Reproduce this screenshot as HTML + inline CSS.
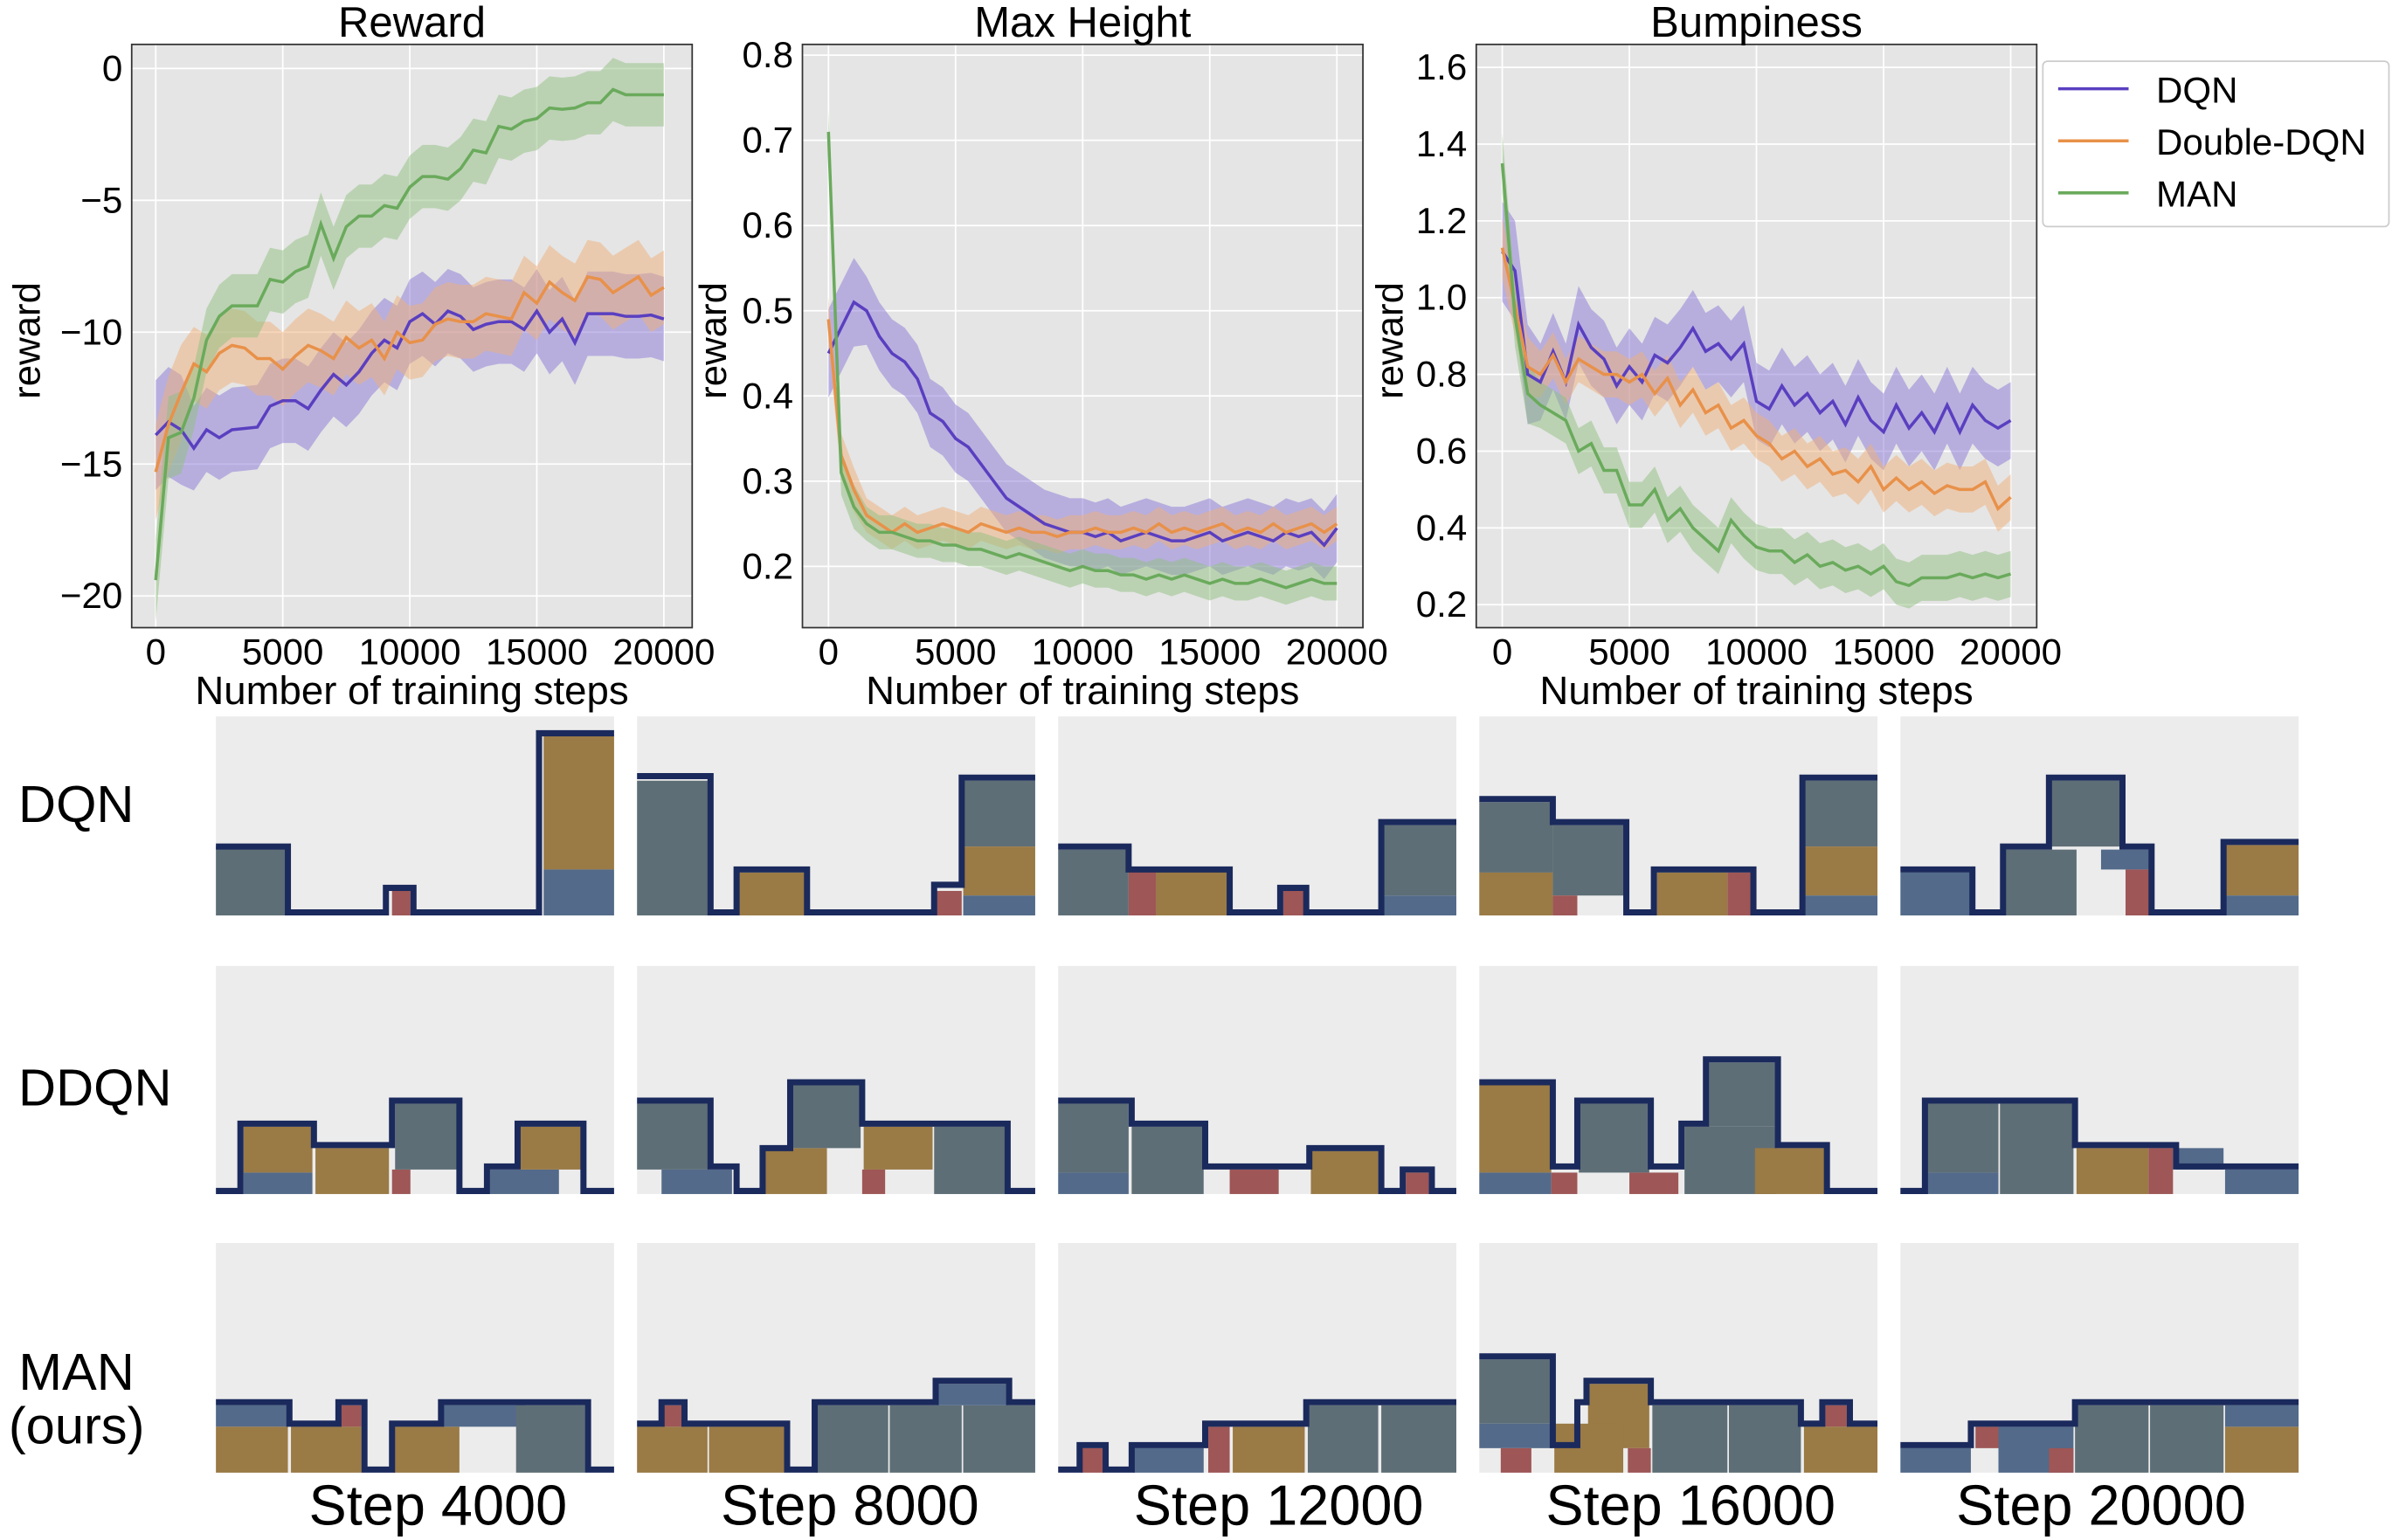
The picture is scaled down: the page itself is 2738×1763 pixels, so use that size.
<!DOCTYPE html>
<html><head><meta charset="utf-8">
<style>
html,body{margin:0;padding:0;background:#fff;}
svg{display:block;font-family:"Liberation Sans","DejaVu Sans",sans-serif;}
</style></head>
<body>
<svg id="root" width="2738" height="1763" viewBox="0 0 1562 1006" preserveAspectRatio="none" xmlns="http://www.w3.org/2000/svg">
<rect x="0" y="0" width="1562" height="1006" fill="#fff"/>
<g id="charts"></g>
<g id="panels"></g>
<g>
<rect x="1334" y="40" width="226" height="108" fill="#fff" stroke="#ccc" stroke-width="1" rx="3"/>
<line x1="1344" y1="58" x2="1390" y2="58" stroke="#5a3fc0" stroke-width="2"/>
<text x="1408" y="67" font-size="24">DQN</text>
<line x1="1344" y1="92" x2="1390" y2="92" stroke="#e8914a" stroke-width="2"/>
<text x="1408" y="101" font-size="24">Double-DQN</text>
<line x1="1344" y1="126" x2="1390" y2="126" stroke="#6aaa5c" stroke-width="2"/>
<text x="1408" y="135" font-size="24">MAN</text>
</g>
<g font-size="34">
<text x="12" y="537">DQN</text>
<text x="12" y="722">DDQN</text>
<text x="50" y="908" text-anchor="middle">MAN</text>
<text x="50" y="943" text-anchor="middle">(ours)</text>
</g>
<g font-size="37" text-anchor="middle">
<text x="286" y="996">Step 4000</text>
<text x="555" y="996">Step 8000</text>
<text x="835" y="996">Step 12000</text>
<text x="1104" y="996">Step 16000</text>
<text x="1372" y="996">Step 20000</text>
</g>
</svg>
<script>
const NS="http://www.w3.org/2000/svg";
const steps=[];for(let i=0;i<=40;i++)steps.push(i*500);
const xTicks=[0,5000,10000,15000,20000];
const rewardTicks=[0,-5,-10,-15,-20];
const heightTicks=[0.8,0.7,0.6,0.5,0.4,0.3,0.2];
const bumpTicks=[1.6,1.4,1.2,1.0,0.8,0.6,0.4,0.2];
const rewardDQN=[-13.9,-13.4,-13.7,-14.4,-13.7,-14.0,-13.7,-13.65,-13.6,-12.8,-12.6,-12.6,-12.9,-12.2,-11.6,-12.0,-11.5,-10.8,-10.3,-10.6,-9.6,-9.3,-9.7,-9.2,-9.4,-9.9,-9.7,-9.6,-9.6,-9.9,-9.2,-10.0,-9.5,-10.4,-9.3,-9.3,-9.3,-9.4,-9.4,-9.35,-9.5];
const rewardDDQN=[-15.3,-13.5,-12.3,-11.2,-11.5,-10.8,-10.5,-10.6,-11.0,-11.0,-11.4,-10.9,-10.5,-10.7,-11.0,-10.2,-10.6,-10.3,-11.0,-10.0,-10.4,-10.3,-9.7,-9.5,-9.6,-9.6,-9.3,-9.4,-9.5,-8.5,-8.9,-8.1,-8.5,-8.8,-7.9,-8.0,-8.5,-8.2,-7.9,-8.6,-8.3];
const rewardMAN=[-19.4,-14.0,-13.8,-12.5,-10.3,-9.4,-9.0,-9.0,-9.0,-8.0,-8.1,-7.7,-7.5,-5.9,-7.2,-6.0,-5.6,-5.6,-5.2,-5.3,-4.5,-4.1,-4.1,-4.2,-3.8,-3.1,-3.2,-2.2,-2.3,-2.0,-1.9,-1.5,-1.55,-1.5,-1.3,-1.3,-0.8,-1.0,-1.0,-1.0,-1.0];
const heightDQN=[0.45,0.48,0.51,0.50,0.47,0.45,0.44,0.42,0.38,0.37,0.35,0.34,0.32,0.30,0.28,0.27,0.26,0.25,0.245,0.24,0.24,0.235,0.24,0.23,0.235,0.24,0.235,0.23,0.23,0.235,0.24,0.23,0.235,0.24,0.235,0.23,0.24,0.235,0.24,0.225,0.245];
const heightDDQN=[0.49,0.33,0.29,0.26,0.25,0.24,0.25,0.24,0.245,0.25,0.245,0.24,0.25,0.245,0.24,0.245,0.24,0.24,0.235,0.24,0.24,0.245,0.24,0.24,0.245,0.24,0.25,0.24,0.245,0.24,0.245,0.25,0.24,0.245,0.24,0.25,0.24,0.245,0.25,0.24,0.25];
const heightMAN=[0.71,0.31,0.27,0.25,0.24,0.24,0.235,0.23,0.23,0.225,0.225,0.22,0.22,0.215,0.21,0.215,0.21,0.205,0.2,0.195,0.2,0.195,0.195,0.19,0.19,0.185,0.19,0.185,0.19,0.185,0.18,0.185,0.18,0.18,0.185,0.18,0.175,0.18,0.185,0.18,0.18];
const bumpDQN=[1.12,1.07,0.8,0.78,0.86,0.78,0.93,0.87,0.84,0.77,0.82,0.78,0.85,0.83,0.87,0.92,0.86,0.88,0.84,0.88,0.73,0.71,0.77,0.72,0.75,0.70,0.73,0.67,0.74,0.68,0.65,0.72,0.66,0.70,0.65,0.72,0.65,0.72,0.68,0.66,0.68];
const bumpDDQN=[1.13,0.98,0.82,0.8,0.85,0.78,0.84,0.82,0.80,0.80,0.78,0.80,0.75,0.79,0.72,0.76,0.70,0.72,0.66,0.68,0.64,0.62,0.58,0.60,0.56,0.58,0.54,0.55,0.52,0.56,0.50,0.53,0.50,0.52,0.49,0.51,0.50,0.50,0.52,0.45,0.48];
const bumpMAN=[1.35,0.95,0.75,0.72,0.70,0.68,0.60,0.62,0.55,0.55,0.46,0.46,0.50,0.42,0.45,0.40,0.37,0.34,0.42,0.38,0.35,0.34,0.34,0.31,0.33,0.30,0.31,0.29,0.30,0.28,0.30,0.26,0.25,0.27,0.27,0.27,0.28,0.27,0.28,0.27,0.28];
const spreadReward=[1.6,1.4,1.2];
const spreadHeight=[0.04,0.02,0.02];
const spreadBump=[0.1,0.06,0.06];
const seriesNames=["dqn","ddqn","man"];
const lineColors=["#5a3fc0","#e8914a","#6aaa5c"];
const bandColors=["#8a78d8","#f0b079","#8fc07f"];

function el(tag,attrs,parent){const e=document.createElementNS(NS,tag);for(const k in attrs)e.setAttribute(k,attrs[k]);parent.appendChild(e);return e;}
const chartsG=document.getElementById('charts');
const charts=[
 {name:"reward",title:"Reward",L:86,R:452,T:29,B:410,x0:101.7,x1:433.5,ya:0,yaPx:44.7,yb:-20,ybPx:389.3,ticks:rewardTicks,fmt:v=>v<0?"\u2212"+(-v):""+v,series:[rewardDQN,rewardDDQN,rewardMAN],spread:spreadReward,ylx:26},
 {name:"max-height",title:"Max Height",L:524,R:890,T:29,B:410,x0:541,x1:873,ya:0.8,yaPx:36,yb:0.2,ybPx:370,ticks:heightTicks,fmt:v=>v.toFixed(1),series:[heightDQN,heightDDQN,heightMAN],spread:spreadHeight,ylx:474},
 {name:"bumpiness",title:"Bumpiness",L:964,R:1330,T:29,B:410,x0:981,x1:1313,ya:1.6,yaPx:44,yb:0.2,ybPx:395,ticks:bumpTicks,fmt:v=>v.toFixed(1),series:[bumpDQN,bumpDDQN,bumpMAN],spread:spreadBump,ylx:916}
];
charts.forEach(c=>{
 const g=el('g',{},chartsG);
 
 
 const X=v=>c.x0+(v-0)/(20000)*(c.x1-c.x0);
 const Y=v=>c.yaPx+(v-c.ya)/(c.yb-c.ya)*(c.ybPx-c.yaPx);
 el('rect',{x:c.L,y:c.T,width:c.R-c.L,height:c.B-c.T,fill:"#e5e5e5"},g);
 xTicks.forEach(t=>{
  el('line',{x1:X(t),x2:X(t),y1:c.T,y2:c.B,stroke:"#fff","stroke-width":1},g);
  const tx=el('text',{x:X(t),y:c.B+24,"font-size":24,"text-anchor":"middle"},g);tx.textContent=t;
  
  
 });
 c.ticks.forEach(t=>{
  el('line',{x1:c.L,x2:c.R,y1:Y(t),y2:Y(t),stroke:"#fff","stroke-width":1},g);
  const ty=el('text',{x:c.L-6,y:Y(t)+8,"font-size":24,"text-anchor":"end"},g);ty.textContent=c.fmt(t);
  
  
 });
 c.series.forEach((s,si)=>{
  const sp=c.spread[si];
  let up=s.map((v,i)=>X(steps[i])+","+Y(v+sp*(i<3?1.3:1))).join(" ");
  let dn=s.map((v,i)=>X(steps[i])+","+Y(v-sp*(i<3?1.3:1))).reverse().join(" ");
  const band=el('polygon',{points:up+" "+dn,fill:bandColors[si],"fill-opacity":0.5,stroke:"none"},g);
  
  
 });
 c.series.forEach((s,si)=>{
  const ln=el('polyline',{points:s.map((v,i)=>X(steps[i])+","+Y(v)).join(" "),fill:"none",stroke:lineColors[si],"stroke-width":2},g);
  
  
 });
 el('rect',{x:c.L,y:c.T,width:c.R-c.L,height:c.B-c.T,fill:"none",stroke:"#333","stroke-width":1},g);
 const tt=el('text',{x:(c.L+c.R)/2,y:24,"font-size":28,"text-anchor":"middle"},g);tt.textContent=c.title;
 
 
 const xl=el('text',{x:(c.L+c.R)/2,y:460,"font-size":26,"text-anchor":"middle"},g);xl.textContent="Number of training steps";
 
 
 const yl=el('text',{x:0,y:0,"font-size":25,"text-anchor":"middle",transform:`translate(${c.ylx},${(c.T+c.B)/2+3}) rotate(-90)`},g);yl.textContent="reward";
 
 
});

const C={g:"#5e6e76",b:"#9a7a45",u:"#536a8a",r:"#9e5656"};
const panels=[
 {x:141,y:468,h:130,blocks:[[141,188,553,598,'g'],[256,268,582,598,'r'],[355,401,480,568,'b'],[355,401,568,598,'u']],
  out:[[141,553],[188,553],[188,596],[252,596],[252,580],[270,580],[270,596],[352,596],[352,479],[401,479]]},
 {x:416,y:468,h:130,blocks:[[416,463,510,598,'g'],[482,526,570,598,'b'],[611,628,582,598,'r'],[629,676,510,553,'g'],[629,676,553,585,'b'],[629,676,585,598,'u']],
  out:[[416,507],[464,507],[464,596],[481,596],[481,568],[527,568],[527,596],[610,596],[610,578],[628,578],[628,508],[676,508]]},
 {x:691,y:468,h:130,blocks:[[691,737,555,598,'g'],[737,755,568,598,'r'],[755,802,568,598,'b'],[838,852,582,598,'r'],[903,951,539,585,'g'],[903,951,585,598,'u']],
  out:[[691,553],[737,553],[737,568],[803,568],[803,596],[836,596],[836,580],[853,580],[853,596],[902,596],[902,537],[951,537]]},
 {x:966,y:468,h:130,blocks:[[966,1014,524,570,'g'],[966,1014,570,598,'b'],[1014,1061,539,585,'g'],[1014,1030,585,598,'r'],[1082,1128,570,598,'b'],[1128,1144,570,598,'r'],[1178,1226,510,553,'g'],[1178,1226,553,585,'b'],[1178,1226,585,598,'u']],
  out:[[966,522],[1014,522],[1014,537],[1062,537],[1062,596],[1080,596],[1080,568],[1145,568],[1145,596],[1177,596],[1177,508],[1226,508]]},
 {x:1241,y:468,h:130,blocks:[[1241,1287,570,598,'u'],[1309,1356,555,598,'g'],[1339,1385,510,553,'g'],[1372,1405,555,568,'u'],[1388,1404,568,598,'r'],[1453,1501,552,585,'b'],[1453,1501,585,598,'u']],
  out:[[1241,568],[1288,568],[1288,596],[1308,596],[1308,553],[1338,553],[1338,508],[1386,508],[1386,553],[1405,553],[1405,596],[1452,596],[1452,550],[1501,550]]},
 {x:141,y:631,h:149,blocks:[[159,204,736,766,'b'],[159,204,766,780,'u'],[206,254,750,780,'b'],[256,268,764,780,'r'],[258,299,721,764,'g'],[320,365,764,780,'u'],[340,380,736,764,'b']],
  out:[[141,778],[157,778],[157,734],[205,734],[205,748],[256,748],[256,719],[300,719],[300,778],[318,778],[318,762],[338,762],[338,734],[381,734],[381,778],[401,778]]},
 {x:416,y:631,h:149,blocks:[[416,463,721,764,'g'],[432,478,764,780,'u'],[499,540,750,780,'b'],[517,562,709,750,'g'],[564,609,736,764,'b'],[563,578,764,780,'r'],[610,657,736,780,'g']],
  out:[[416,719],[464,719],[464,762],[481,762],[481,778],[498,778],[498,750],[516,750],[516,707],[563,707],[563,734],[658,734],[658,778],[676,778]]},
 {x:691,y:631,h:149,blocks:[[691,737,721,766,'g'],[691,737,766,780,'u'],[739,786,736,780,'g'],[803,835,764,780,'r'],[856,900,752,780,'b'],[918,933,766,780,'r']],
  out:[[691,719],[739,719],[739,734],[787,734],[787,762],[855,762],[855,750],[902,750],[902,778],[916,778],[916,764],[935,764],[935,778],[951,778]]},
 {x:966,y:631,h:149,blocks:[[966,1013,709,766,'b'],[966,1013,766,780,'u'],[1013,1030,766,780,'r'],[1031,1077,721,766,'g'],[1064,1096,766,780,'r'],[1100,1160,736,780,'g'],[1115,1160,694,736,'g'],[1146,1192,750,780,'b']],
  out:[[966,707],[1014,707],[1014,762],[1030,762],[1030,719],[1078,719],[1078,762],[1098,762],[1098,734],[1114,734],[1114,692],[1161,692],[1161,748],[1193,748],[1193,778],[1226,778]]},
 {x:1241,y:631,h:149,blocks:[[1258,1305,721,766,'g'],[1258,1305,766,780,'u'],[1306,1354,721,780,'g'],[1356,1403,750,780,'b'],[1403,1419,750,780,'r'],[1421,1452,750,764,'u'],[1453,1501,764,780,'u']],
  out:[[1241,778],[1257,778],[1257,719],[1355,719],[1355,748],[1421,748],[1421,762],[1501,762]]},
 {x:141,y:812,h:150,blocks:[[141,188,918,932,'u'],[141,188,932,962,'b'],[190,236,932,962,'b'],[222,236,918,932,'r'],[257,300,932,962,'b'],[289,343,918,932,'u'],[337,382,918,962,'g']],
  out:[[141,916],[189,916],[189,930],[221,930],[221,916],[238,916],[238,960],[256,960],[256,930],[288,930],[288,916],[384,916],[384,960],[401,960]]},
 {x:416,y:812,h:150,blocks:[[416,462,932,962,'b'],[433,446,918,932,'r'],[463,512,932,962,'b'],[533,580,918,962,'g'],[581,628,918,962,'g'],[629,676,918,962,'g'],[612,658,904,918,'u']],
  out:[[416,930],[432,930],[432,916],[447,916],[447,930],[514,930],[514,960],[532,960],[532,916],[611,916],[611,902],[659,902],[659,916],[676,916]]},
 {x:691,y:812,h:150,blocks:[[706,721,946,962,'r'],[740,786,946,962,'u'],[789,803,932,962,'r'],[805,852,932,962,'b'],[854,900,918,962,'g'],[902,951,918,962,'g']],
  out:[[691,960],[705,960],[705,944],[722,944],[722,960],[739,960],[739,944],[787,944],[787,930],[853,930],[853,916],[951,916]]},
 {x:966,y:812,h:150,blocks:[[966,1013,888,930,'g'],[966,1013,930,946,'u'],[980,1000,946,962,'r'],[1037,1077,904,946,'b'],[1015,1060,930,962,'b'],[1063,1078,946,962,'r'],[1079,1128,918,962,'g'],[1129,1176,918,962,'g'],[1192,1207,918,932,'r'],[1178,1226,932,962,'b']],
  out:[[966,886],[1014,886],[1014,944],[1030,944],[1030,916],[1036,916],[1036,902],[1078,902],[1078,916],[1176,916],[1176,930],[1190,930],[1190,916],[1208,916],[1208,930],[1226,930]]},
 {x:1241,y:812,h:150,blocks:[[1241,1287,946,962,'u'],[1305,1354,932,962,'u'],[1290,1305,932,946,'r'],[1338,1354,946,962,'r'],[1355,1403,918,962,'g'],[1404,1452,918,962,'g'],[1453,1501,932,962,'b'],[1453,1501,918,932,'u']],
  out:[[1241,944],[1287,944],[1287,930],[1355,930],[1355,916],[1501,916]]}
];
const rowNames=["dqn","ddqn","man"];
const pg=document.getElementById('panels');
panels.forEach((p,i)=>{
 const g=el('g',{},pg);
 
 
 el('rect',{x:p.x,y:p.y,width:260,height:p.h,fill:"#ececec"},g);
 p.blocks.forEach(b=>{
  const r=el('rect',{x:b[0],y:b[2],width:b[1]-b[0],height:b[3]-b[2],fill:C[b[4]]},g);
  
  
 });
 const o=el('polyline',{points:p.out.map(q=>q.join(",")).join(" "),fill:"none",stroke:"#1b2a5c","stroke-width":4,"stroke-linejoin":"miter"},g);
 
 
});
</script>
</body></html>
